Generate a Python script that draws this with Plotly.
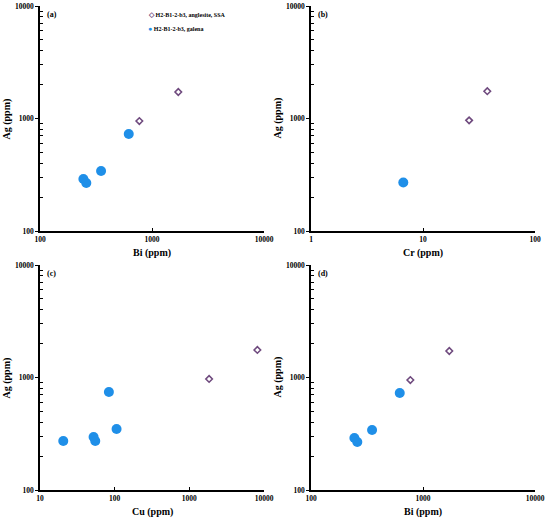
import plotly.graph_objects as go
from plotly.subplots import make_subplots

# ── Data ──────────────────────────────────────────────────────────────────────
gal_name = "H2-B1-2-b3, galena"
ang_name = "H2-B1-2-b3, anglesite, SSA"

# (a) / (d)  Bi vs Ag
bi_gal = [244, 259, 351, 620]
ag_bi_gal = [290, 267, 341, 728]
bi_ang = [771, 1717]
ag_bi_ang = [950, 1720]

# (b)  Cr vs Ag
cr_gal = [6.67]
ag_cr_gal = [270]
cr_ang = [25.8, 37.5]
ag_cr_ang = [963, 1747]

# (c)  Cu vs Ag
cu_gal = [20.5, 52.2, 55, 106, 83.7]
ag_cu_gal = [273, 296, 273, 349, 743]
cu_ang = [1840, 8150]
ag_cu_ang = [970, 1756]

panel_labels = ["(a)", "(b)", "(c)", "(d)"]
x_titles = ["Bi (ppm)", "Cr (ppm)", "Cu (ppm)", "Bi (ppm)"]
x_ranges = [[2, 4], [0, 2], [1, 4], [2, 4]]

FONT = "Liberation Serif"
GAL_COLOR = "#1f8fe8"
ANG_COLOR = "#6f4a7e"

fig = make_subplots(rows=2, cols=2)

panels = [
    (1, 1, bi_gal, ag_bi_gal, bi_ang, ag_bi_ang),
    (1, 2, cr_gal, ag_cr_gal, cr_ang, ag_cr_ang),
    (2, 1, cu_gal, ag_cu_gal, cu_ang, ag_cu_ang),
    (2, 2, bi_gal, ag_bi_gal, bi_ang, ag_bi_ang),
]

for i, (r, c, xg, yg, xa, ya) in enumerate(panels):
    fig.add_trace(go.Scatter(
        x=xa, y=ya, mode="markers", name=ang_name, showlegend=False,
        marker=dict(symbol="diamond", size=5, color="white",
                    line=dict(color=ANG_COLOR, width=1.6)),
    ), row=r, col=c)
    fig.add_trace(go.Scatter(
        x=xg, y=yg, mode="markers", name=gal_name, showlegend=False,
        marker=dict(symbol="circle", size=10, color=GAL_COLOR,
                    line=dict(width=0)),
    ), row=r, col=c)

# ── Axes layout (pixel-matched domains) ──────────────────────────────────────
W, H = 550, 522
x_doms = [[40 / W, 264 / W], [311 / W, 535 / W]]
y_doms = [[1 - 231 / H, 1 - 6 / H], [1 - 490 / H, 1 - 265 / H]]
tick_font = dict(family=FONT, size=7.5, color="black", weight="bold")
title_font = dict(family=FONT, size=10, color="black", weight="bold")

for i in range(4):
    r, c = divmod(i, 2)
    n = "" if i == 0 else str(i + 1)
    tickvals = [10 ** k for k in range(x_ranges[i][0], x_ranges[i][1] + 1)]
    fig.layout["xaxis" + n].update(
        type="log", range=x_ranges[i], domain=x_doms[c], automargin=False,
        tickvals=tickvals, ticktext=[str(v) for v in tickvals],
        ticks="inside", ticklen=3, tickwidth=1, tickcolor="black",
        showline=True, linecolor="black", linewidth=1.5,
        showgrid=False, zeroline=False, tickfont=tick_font,
    )
    fig.layout["yaxis" + n].update(
        type="log", range=[2, 4], domain=y_doms[r], automargin=False,
        tickvals=[100, 1000, 10000], ticktext=["100", "1000", "10000"],
        ticks="outside", ticklen=3, tickwidth=1, tickcolor="black",
        minor=dict(ticks="inside", ticklen=3, tickcolor="black",
                   tickvals=[v * m for v in (100, 1000) for m in range(2, 10)]),
        showline=True, linecolor="black", linewidth=1.5,
        showgrid=False, zeroline=False, tickfont=tick_font,
    )
    # panel tag
    fig.add_annotation(
        x=x_doms[c][0] + 5 / W, y=y_doms[r][1] - 2 / H, xref="paper", yref="paper",
        text=panel_labels[i], showarrow=False, xanchor="left", yanchor="top",
        font=dict(family=FONT, size=8, color="black", weight="bold"),
    )
    # axis titles
    fig.add_annotation(
        x=sum(x_doms[c]) / 2, y=y_doms[r][0] - 22 / H, xref="paper", yref="paper",
        text=x_titles[i], showarrow=False, xanchor="center", yanchor="middle",
        font=title_font,
    )
    fig.add_annotation(
        x=x_doms[c][0] - 34 / W, y=sum(y_doms[r]) / 2, xref="paper", yref="paper",
        text="Ag (ppm)", showarrow=False, textangle=-90,
        xanchor="center", yanchor="middle", font=title_font,
    )

# ── Key in panel (a), written as text so it can sit tight like the original ──
key_font = dict(family=FONT, size=6, color="black", weight="bold")
fig.add_annotation(
    x=146 / W, y=1 - 15 / H, xref="paper", yref="paper", showarrow=False,
    xanchor="left", yanchor="middle", font=key_font,
    text="<span style='color:%s;font-size:7px'>◇</span> %s" % (ANG_COLOR, ang_name),
)
fig.add_annotation(
    x=146 / W, y=1 - 29 / H, xref="paper", yref="paper", showarrow=False,
    xanchor="left", yanchor="middle", font=key_font,
    text="<span style='color:%s;font-size:7px'>●</span> %s" % (GAL_COLOR, gal_name),
)

fig.update_layout(
    width=W, height=H,
    margin=dict(l=0, r=0, t=0, b=0),
    paper_bgcolor="white", plot_bgcolor="white",
    showlegend=False,
)

# drop the page's default body margin so the figure sits at the window origin
fig.write_html("out.html", config={"displayModeBar": False},
               post_script="document.body.style.margin='0';")
